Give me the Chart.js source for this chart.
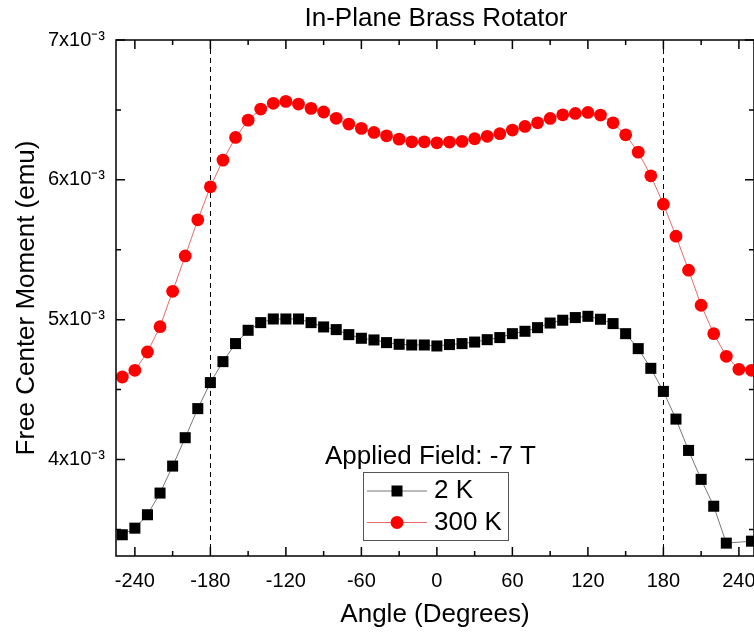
<!DOCTYPE html>
<html>
<head>
<meta charset="utf-8">
<title>In-Plane Brass Rotator</title>
<script src="https://cdn.jsdelivr.net/npm/chart.js@4.4.1/dist/chart.umd.min.js"></script>
<style>
  html, body { margin: 0; padding: 0; background: #fff; overflow: hidden; }
  canvas { display: block; }
</style>
</head>
<body>
<canvas id="chart" width="754" height="632"></canvas>
<script>
// Angles in degrees, one reading every 10 degrees
const angles = [
  -250, -240, -230, -220, -210, -200, -190, -180, -170, -160,
  -150, -140, -130, -120, -110, -100, -90, -80, -70, -60,
  -50, -40, -30, -20, -10, 0, 10, 20, 30, 40,
  50, 60, 70, 80, 90, 100, 110, 120, 130, 140,
  150, 160, 170, 180, 190, 200, 210, 220, 230, 240, 250
];

// Free center moment, in units of 10^-3 emu
const moment2K = [
  3.462, 3.509, 3.605, 3.760, 3.953, 4.156, 4.364, 4.550, 4.700, 4.829,
  4.924, 4.979, 5.005, 5.005, 5.005, 4.979, 4.948, 4.929, 4.893, 4.867,
  4.855, 4.836, 4.824, 4.819, 4.819, 4.812, 4.822, 4.829, 4.840, 4.857,
  4.872, 4.900, 4.917, 4.943, 4.976, 4.996, 5.015, 5.024, 5.003, 4.972,
  4.900, 4.793, 4.652, 4.487, 4.289, 4.065, 3.858, 3.666, 3.402, null, 3.416
];
const moment300K = [
  4.590, 4.638, 4.769, 4.950, 5.203, 5.456, 5.714, 5.950, 6.141, 6.303,
  6.427, 6.506, 6.547, 6.561, 6.542, 6.511, 6.485, 6.440, 6.399, 6.368,
  6.339, 6.315, 6.291, 6.272, 6.272, 6.265, 6.270, 6.275, 6.294, 6.311,
  6.330, 6.356, 6.382, 6.408, 6.439, 6.465, 6.475, 6.482, 6.463, 6.408,
  6.322, 6.198, 6.029, 5.826, 5.597, 5.354, 5.103, 4.900, 4.738, 4.645, 4.638
];

const xTicks = [-240, -180, -120, -60, 0, 60, 120, 180, 240];
const yTicks = [4, 5, 6, 7];
const markerLines = [-180, 180];

const chartTitle = 'In-Plane Brass Rotator';
const legendTitle = 'Applied Field: -7 T';
const seriesNames = ['2 K', '300 K'];

const fontFamily = "'Liberation Sans', Arial, Helvetica, sans-serif";

function toPoints(values) {
  return angles.map(function (a, i) {
    return { x: a, y: values[i] };
  });
}

// Frame, inward ticks, dashed markers, title and legend box
const framePlugin = {
  id: 'frame',
  beforeDatasetsDraw: function (chart) {
    const ctx = chart.ctx;
    const area = chart.chartArea;
    const xs = chart.scales.x;
    ctx.save();
    ctx.strokeStyle = '#000';
    ctx.lineWidth = 1;
    ctx.setLineDash([5, 4]);
    markerLines.forEach(function (v) {
      const px = Math.round(xs.getPixelForValue(v)) + 0.5;
      ctx.beginPath();
      ctx.moveTo(px, area.top);
      ctx.lineTo(px, area.bottom);
      ctx.stroke();
    });
    ctx.restore();
  },
  afterDraw: function (chart) {
    const ctx = chart.ctx;
    const area = chart.chartArea;
    const xs = chart.scales.x;
    const ys = chart.scales.y;
    ctx.save();
    ctx.strokeStyle = '#000';
    ctx.lineWidth = 1.5;
    ctx.strokeRect(area.left, area.top, area.right - area.left, area.bottom - area.top);

    // ticks on all four sides, pointing in
    function xTick(v, len) {
      const px = xs.getPixelForValue(v);
      ctx.beginPath();
      ctx.moveTo(px, area.bottom); ctx.lineTo(px, area.bottom - len);
      ctx.moveTo(px, area.top); ctx.lineTo(px, area.top + len);
      ctx.stroke();
    }
    function yTick(v, len) {
      const py = ys.getPixelForValue(v);
      ctx.beginPath();
      ctx.moveTo(area.left, py); ctx.lineTo(area.left + len, py);
      ctx.moveTo(area.right, py); ctx.lineTo(area.right - len, py);
      ctx.stroke();
    }
    xTicks.forEach(function (v) { xTick(v, 9); if (v < 240) xTick(v + 30, 5); });
    yTicks.forEach(function (v) { yTick(v, 9); yTick(v - 0.5, 5); });

    // title
    ctx.fillStyle = '#000';
    ctx.font = '26px ' + fontFamily;
    ctx.textAlign = 'center';
    ctx.textBaseline = 'middle';
    ctx.fillText(chartTitle, 436, 19);

    // legend
    ctx.textAlign = 'left';
    ctx.fillText(legendTitle, 325, 457);
    ctx.lineWidth = 1;
    ctx.strokeStyle = '#555';
    ctx.strokeRect(363.5, 472.5, 145, 68);
    const rows = [491, 522.5];
    chart.data.datasets.forEach(function (ds, i) {
      const y = rows[i];
      ctx.strokeStyle = ds.borderColor;
      ctx.beginPath();
      ctx.moveTo(367, y); ctx.lineTo(427, y);
      ctx.stroke();
      ctx.fillStyle = ds.pointBackgroundColor;
      if (ds.pointStyle === 'rect') {
        ctx.fillRect(397 - 5.5, y - 5.5, 11, 11);
      } else {
        ctx.beginPath();
        ctx.arc(397, y, 6.5, 0, Math.PI * 2);
        ctx.fill();
      }
      ctx.fillStyle = '#000';
      ctx.fillText(seriesNames[i], 434, y);
    });
    ctx.restore();
  }
};

const ctx = document.getElementById('chart').getContext('2d');
const chart = new Chart(ctx, {
  type: 'line',
  data: {
    datasets: [
      {
        label: seriesNames[0],
        data: toPoints(moment2K),
        borderColor: '#777',
        borderWidth: 1,
        pointStyle: 'rect',
        pointRadius: 7.8,
        pointBackgroundColor: '#000',
        pointBorderColor: '#000',
        pointBorderWidth: 0,
        spanGaps: true,
        tension: 0,
        clip: false
      },
      {
        label: seriesNames[1],
        data: toPoints(moment300K),
        borderColor: '#e86a6a',
        borderWidth: 1,
        pointStyle: 'circle',
        pointRadius: 6.4,
        pointBackgroundColor: '#ff0000',
        pointBorderColor: '#ff0000',
        pointBorderWidth: 0,
        tension: 0,
        clip: false
      }
    ]
  },
  options: {
    responsive: false,
    animation: false,
    layout: { autoPadding: false, padding: { top: 40, left: 0, right: 0, bottom: 0 } },
    plugins: {
      legend: { display: false },
      tooltip: { enabled: false },
      title: { display: false }
    },
    scales: {
      x: {
        type: 'linear',
        min: -255,
        max: 252,
        afterFit: function (scale) {
          scale.height = 76;
          scale.paddingLeft = 0;
          scale.paddingRight = 0;
        },
        grid: { display: false, drawTicks: false },
        border: { display: false },
        ticks: {
          stepSize: 60,
          includeBounds: false,
          autoSkip: false,
          maxRotation: 0,
          color: '#000',
          padding: 13,
          font: { family: fontFamily, size: 20 }
        },
        title: {
          display: true,
          text: 'Angle (Degrees)',
          color: '#000',
          font: { family: fontFamily, size: 26, lineHeight: 1.2 },
          padding: { top: 0, bottom: 2 }
        }
      },
      y: {
        type: 'linear',
        min: 3.31,
        max: 7,
        afterFit: function (scale) {
          scale.width = 116;
          scale.paddingTop = 0;
          scale.paddingBottom = 0;
        },
        grid: { display: false, drawTicks: false },
        border: { display: false },
        ticks: {
          stepSize: 1,
          includeBounds: false,
          color: '#000',
          padding: 11,
          font: { family: fontFamily, size: 20 },
          callback: function (value) {
            if (Math.abs(value - Math.round(value)) > 1e-6) return null;
            return Math.round(value) + 'x10\u207B\u00B3';
          }
        },
        title: {
          display: true,
          text: 'Free Center Moment (emu)',
          color: '#000',
          font: { family: fontFamily, size: 26, lineHeight: 1.2 },
          padding: { top: 11, bottom: 0 }
        }
      }
    }
  },
  plugins: [framePlugin]
});
</script>
</body>
</html>
